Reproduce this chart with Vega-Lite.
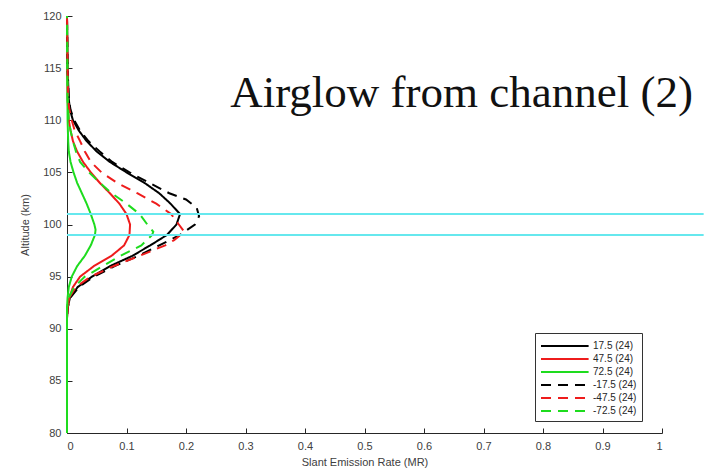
{
  "$schema": "https://vega.github.io/schema/vega-lite/v6.json",
  "autosize": {"type": "none"},
  "width": 595,
  "height": 417,
  "padding": {"left": 67, "top": 16, "right": 42, "bottom": 38},
  "background": "white",
  "config": {
    "view": {"stroke": null},
    "font": "Liberation Sans",
    "axis": {
      "domainColor": "#262626",
      "domainWidth": 1,
      "tickColor": "#262626",
      "tickSize": -5,
      "labelColor": "#404040",
      "labelFont": "Liberation Sans",
      "labelFontSize": 11,
      "titleColor": "#404040",
      "titleFont": "Liberation Sans",
      "titleFontSize": 11,
      "titleFontWeight": "normal",
      "grid": false
    }
  },
  "datasets": {
    "profiles": [
      {"series": "17.5 (24)", "alt": 80, "rate": 0},
      {"series": "17.5 (24)", "alt": 91, "rate": 0},
      {"series": "17.5 (24)", "alt": 92, "rate": 0.001},
      {"series": "17.5 (24)", "alt": 93, "rate": 0.005},
      {"series": "17.5 (24)", "alt": 94, "rate": 0.018},
      {"series": "17.5 (24)", "alt": 95, "rate": 0.042},
      {"series": "17.5 (24)", "alt": 96, "rate": 0.072},
      {"series": "17.5 (24)", "alt": 97, "rate": 0.11},
      {"series": "17.5 (24)", "alt": 98, "rate": 0.14},
      {"series": "17.5 (24)", "alt": 99, "rate": 0.168},
      {"series": "17.5 (24)", "alt": 100, "rate": 0.184},
      {"series": "17.5 (24)", "alt": 101, "rate": 0.19},
      {"series": "17.5 (24)", "alt": 102, "rate": 0.174},
      {"series": "17.5 (24)", "alt": 103, "rate": 0.155},
      {"series": "17.5 (24)", "alt": 104, "rate": 0.13},
      {"series": "17.5 (24)", "alt": 105, "rate": 0.1},
      {"series": "17.5 (24)", "alt": 106, "rate": 0.072},
      {"series": "17.5 (24)", "alt": 107, "rate": 0.05},
      {"series": "17.5 (24)", "alt": 108, "rate": 0.033},
      {"series": "17.5 (24)", "alt": 109, "rate": 0.02},
      {"series": "17.5 (24)", "alt": 110, "rate": 0.01},
      {"series": "17.5 (24)", "alt": 111, "rate": 0.005},
      {"series": "17.5 (24)", "alt": 112, "rate": 0.003},
      {"series": "17.5 (24)", "alt": 115, "rate": 0.001},
      {"series": "17.5 (24)", "alt": 120, "rate": 0},

      {"series": "47.5 (24)", "alt": 80, "rate": 0},
      {"series": "47.5 (24)", "alt": 91, "rate": 0},
      {"series": "47.5 (24)", "alt": 92, "rate": 0.001},
      {"series": "47.5 (24)", "alt": 93, "rate": 0.004},
      {"series": "47.5 (24)", "alt": 94, "rate": 0.01},
      {"series": "47.5 (24)", "alt": 95, "rate": 0.022},
      {"series": "47.5 (24)", "alt": 96, "rate": 0.045},
      {"series": "47.5 (24)", "alt": 97, "rate": 0.075},
      {"series": "47.5 (24)", "alt": 98, "rate": 0.096},
      {"series": "47.5 (24)", "alt": 99, "rate": 0.105},
      {"series": "47.5 (24)", "alt": 100, "rate": 0.106},
      {"series": "47.5 (24)", "alt": 101, "rate": 0.1},
      {"series": "47.5 (24)", "alt": 102, "rate": 0.088},
      {"series": "47.5 (24)", "alt": 103, "rate": 0.072},
      {"series": "47.5 (24)", "alt": 104, "rate": 0.055},
      {"series": "47.5 (24)", "alt": 105, "rate": 0.04},
      {"series": "47.5 (24)", "alt": 106, "rate": 0.027},
      {"series": "47.5 (24)", "alt": 107, "rate": 0.017},
      {"series": "47.5 (24)", "alt": 108, "rate": 0.01},
      {"series": "47.5 (24)", "alt": 109, "rate": 0.006},
      {"series": "47.5 (24)", "alt": 110, "rate": 0.003},
      {"series": "47.5 (24)", "alt": 112, "rate": 0.001},
      {"series": "47.5 (24)", "alt": 120, "rate": 0},

      {"series": "72.5 (24)", "alt": 80, "rate": 0},
      {"series": "72.5 (24)", "alt": 92, "rate": 0},
      {"series": "72.5 (24)", "alt": 93, "rate": 0.001},
      {"series": "72.5 (24)", "alt": 94, "rate": 0.003},
      {"series": "72.5 (24)", "alt": 95, "rate": 0.008},
      {"series": "72.5 (24)", "alt": 96, "rate": 0.017},
      {"series": "72.5 (24)", "alt": 97, "rate": 0.03},
      {"series": "72.5 (24)", "alt": 98, "rate": 0.04},
      {"series": "72.5 (24)", "alt": 99, "rate": 0.047},
      {"series": "72.5 (24)", "alt": 99.5, "rate": 0.048},
      {"series": "72.5 (24)", "alt": 100, "rate": 0.046},
      {"series": "72.5 (24)", "alt": 101, "rate": 0.04},
      {"series": "72.5 (24)", "alt": 102, "rate": 0.033},
      {"series": "72.5 (24)", "alt": 103, "rate": 0.025},
      {"series": "72.5 (24)", "alt": 104, "rate": 0.017},
      {"series": "72.5 (24)", "alt": 105, "rate": 0.011},
      {"series": "72.5 (24)", "alt": 106, "rate": 0.006},
      {"series": "72.5 (24)", "alt": 107, "rate": 0.003},
      {"series": "72.5 (24)", "alt": 108, "rate": 0.002},
      {"series": "72.5 (24)", "alt": 110, "rate": 0.001},
      {"series": "72.5 (24)", "alt": 120, "rate": 0},

      {"series": "-17.5 (24)", "alt": 80, "rate": 0},
      {"series": "-17.5 (24)", "alt": 91, "rate": 0},
      {"series": "-17.5 (24)", "alt": 92, "rate": 0.001},
      {"series": "-17.5 (24)", "alt": 93, "rate": 0.006},
      {"series": "-17.5 (24)", "alt": 94, "rate": 0.02},
      {"series": "-17.5 (24)", "alt": 95, "rate": 0.045},
      {"series": "-17.5 (24)", "alt": 96, "rate": 0.08},
      {"series": "-17.5 (24)", "alt": 97, "rate": 0.12},
      {"series": "-17.5 (24)", "alt": 98, "rate": 0.155},
      {"series": "-17.5 (24)", "alt": 99, "rate": 0.19},
      {"series": "-17.5 (24)", "alt": 100, "rate": 0.215},
      {"series": "-17.5 (24)", "alt": 100.8, "rate": 0.222},
      {"series": "-17.5 (24)", "alt": 101.6, "rate": 0.218},
      {"series": "-17.5 (24)", "alt": 102.4, "rate": 0.2},
      {"series": "-17.5 (24)", "alt": 103, "rate": 0.172},
      {"series": "-17.5 (24)", "alt": 104, "rate": 0.138},
      {"series": "-17.5 (24)", "alt": 105, "rate": 0.105},
      {"series": "-17.5 (24)", "alt": 106, "rate": 0.076},
      {"series": "-17.5 (24)", "alt": 107, "rate": 0.055},
      {"series": "-17.5 (24)", "alt": 108, "rate": 0.036},
      {"series": "-17.5 (24)", "alt": 109, "rate": 0.022},
      {"series": "-17.5 (24)", "alt": 110, "rate": 0.012},
      {"series": "-17.5 (24)", "alt": 111, "rate": 0.006},
      {"series": "-17.5 (24)", "alt": 112, "rate": 0.003},
      {"series": "-17.5 (24)", "alt": 115, "rate": 0.001},
      {"series": "-17.5 (24)", "alt": 120, "rate": 0},

      {"series": "-47.5 (24)", "alt": 80, "rate": 0},
      {"series": "-47.5 (24)", "alt": 91, "rate": 0},
      {"series": "-47.5 (24)", "alt": 92, "rate": 0.001},
      {"series": "-47.5 (24)", "alt": 93, "rate": 0.004},
      {"series": "-47.5 (24)", "alt": 94, "rate": 0.015},
      {"series": "-47.5 (24)", "alt": 95, "rate": 0.04},
      {"series": "-47.5 (24)", "alt": 96, "rate": 0.078},
      {"series": "-47.5 (24)", "alt": 97, "rate": 0.122},
      {"series": "-47.5 (24)", "alt": 98, "rate": 0.165},
      {"series": "-47.5 (24)", "alt": 98.5, "rate": 0.18},
      {"series": "-47.5 (24)", "alt": 99.3, "rate": 0.197},
      {"series": "-47.5 (24)", "alt": 100, "rate": 0.188},
      {"series": "-47.5 (24)", "alt": 101, "rate": 0.175},
      {"series": "-47.5 (24)", "alt": 102, "rate": 0.15},
      {"series": "-47.5 (24)", "alt": 103, "rate": 0.118},
      {"series": "-47.5 (24)", "alt": 104, "rate": 0.084},
      {"series": "-47.5 (24)", "alt": 105, "rate": 0.058},
      {"series": "-47.5 (24)", "alt": 106, "rate": 0.04},
      {"series": "-47.5 (24)", "alt": 107, "rate": 0.03},
      {"series": "-47.5 (24)", "alt": 108, "rate": 0.022},
      {"series": "-47.5 (24)", "alt": 109, "rate": 0.013},
      {"series": "-47.5 (24)", "alt": 110, "rate": 0.008},
      {"series": "-47.5 (24)", "alt": 111, "rate": 0.004},
      {"series": "-47.5 (24)", "alt": 112, "rate": 0.002},
      {"series": "-47.5 (24)", "alt": 115, "rate": 0.001},
      {"series": "-47.5 (24)", "alt": 120, "rate": 0},

      {"series": "-72.5 (24)", "alt": 80, "rate": 0},
      {"series": "-72.5 (24)", "alt": 92, "rate": 0},
      {"series": "-72.5 (24)", "alt": 93, "rate": 0.003},
      {"series": "-72.5 (24)", "alt": 94, "rate": 0.012},
      {"series": "-72.5 (24)", "alt": 95, "rate": 0.03},
      {"series": "-72.5 (24)", "alt": 96, "rate": 0.06},
      {"series": "-72.5 (24)", "alt": 97, "rate": 0.09},
      {"series": "-72.5 (24)", "alt": 98, "rate": 0.125},
      {"series": "-72.5 (24)", "alt": 99, "rate": 0.143},
      {"series": "-72.5 (24)", "alt": 99.3, "rate": 0.145},
      {"series": "-72.5 (24)", "alt": 100, "rate": 0.135},
      {"series": "-72.5 (24)", "alt": 101, "rate": 0.122},
      {"series": "-72.5 (24)", "alt": 102, "rate": 0.1},
      {"series": "-72.5 (24)", "alt": 103, "rate": 0.075},
      {"series": "-72.5 (24)", "alt": 104, "rate": 0.055},
      {"series": "-72.5 (24)", "alt": 105, "rate": 0.037},
      {"series": "-72.5 (24)", "alt": 106, "rate": 0.022},
      {"series": "-72.5 (24)", "alt": 107, "rate": 0.015},
      {"series": "-72.5 (24)", "alt": 108, "rate": 0.01},
      {"series": "-72.5 (24)", "alt": 109, "rate": 0.006},
      {"series": "-72.5 (24)", "alt": 110, "rate": 0.003},
      {"series": "-72.5 (24)", "alt": 112, "rate": 0.001},
      {"series": "-72.5 (24)", "alt": 120, "rate": 0}
    ],
    "bounds": [
      {"alt": 99, "from": 0, "to": 1.07},
      {"alt": 101, "from": 0, "to": 1.07}
    ]
  },
  "layer": [
    {
      "data": {"name": "profiles"},
      "mark": {"type": "line", "strokeWidth": 2, "clip": false},
      "encoding": {
        "x": {
          "field": "rate", "type": "quantitative",
          "scale": {"domain": [0, 1], "nice": false, "zero": false},
          "axis": {
            "title": "Slant Emission Rate (MR)",
            "values": [0, 0.1, 0.2, 0.3, 0.4, 0.5, 0.6, 0.7, 0.8, 0.9, 1],
            "format": "~g",
            "labelPadding": 12,
            "titlePadding": 5
          }
        },
        "y": {
          "field": "alt", "type": "quantitative",
          "scale": {"domain": [80, 120], "nice": false, "zero": false},
          "axis": {
            "title": "Altitude (km)",
            "values": [80, 85, 90, 95, 100, 105, 110, 115, 120],
            "labelPadding": 11,
            "titlePadding": 12
          }
        },
        "order": {"field": "alt", "type": "quantitative"},
        "color": {
          "field": "series", "type": "nominal",
          "scale": {
            "domain": ["17.5 (24)", "47.5 (24)", "72.5 (24)", "-17.5 (24)", "-47.5 (24)", "-72.5 (24)"],
            "range": ["#000000", "#ee1c1c", "#1edc1e", "#000000", "#ee1c1c", "#1edc1e"]
          },
          "legend": {
            "title": null,
            "orient": "none",
            "legendX": 468,
            "legendY": 317,
            "symbolType": "M-1,0H5.8",
            "symbolSize": 196,
            "symbolStrokeWidth": 2,
            "labelFont": "Liberation Sans",
            "labelFontSize": 10,
            "labelColor": "#262626",
            "labelOffset": 37,
            "rowPadding": 0,
            "padding": 5,
            "fillColor": "white",
            "strokeColor": "#333333"
          }
        },
        "strokeDash": {
          "field": "series", "type": "nominal",
          "scale": {
            "domain": ["17.5 (24)", "47.5 (24)", "72.5 (24)", "-17.5 (24)", "-47.5 (24)", "-72.5 (24)"],
            "range": [[1, 0], [1, 0], [1, 0], [10, 7], [10, 7], [10, 7]]
          },
          "legend": null
        }
      }
    },
    {
      "data": {"name": "bounds"},
      "mark": {"type": "rule", "color": "#66e8ee", "strokeWidth": 2, "clip": false},
      "encoding": {
        "x": {"field": "from", "type": "quantitative"},
        "x2": {"field": "to"},
        "y": {"field": "alt", "type": "quantitative"}
      }
    },
    {
      "data": {"values": [{"note": "Airglow from channel (2)", "rate": 1.052, "alt": 111.3}]},
      "mark": {
        "type": "text",
        "align": "right",
        "baseline": "alphabetic",
        "font": "Liberation Serif",
        "fontSize": 45,
        "color": "#111111",
        "clip": false
      },
      "encoding": {
        "x": {"field": "rate", "type": "quantitative"},
        "y": {"field": "alt", "type": "quantitative"},
        "text": {"field": "note"}
      }
    }
  ]
}
